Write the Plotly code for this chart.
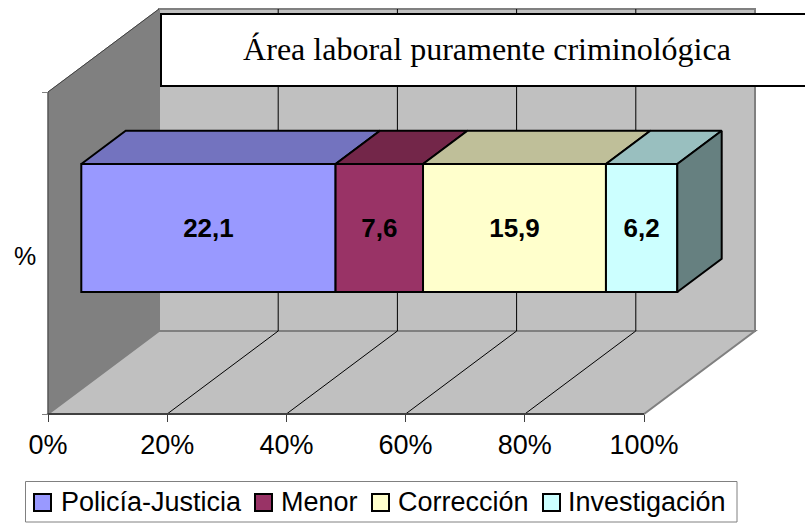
import plotly.graph_objects as go

categories = ["Policía-Justicia", "Menor", "Corrección", "Investigación"]
values = [22.1, 7.6, 15.9, 6.2]
front_colors = ["#9999FF", "#993366", "#FFFFCC", "#CCFFFF"]
top_colors = ["#7373BF", "#732649", "#BFBF99", "#99BFBF"]
side_color = "#668080"
x_ticks = [0, 20, 40, 60, 80, 100]
x_tick_labels = ["0%", "20%", "40%", "60%", "80%", "100%"]
title_text = "Área laboral puramente criminológica"
legend_swatch_left = [33, 254, 371, 542]
legend_text_left = [60, 280, 397, 567]

W, H = 805, 523
X0, SCALE = 48, 5.96          # px of 0 %, px per %
FLOOR_Y, WALL_H = 414, 322    # front floor y, wall height
DEPTH_X, DEPTH_Y = 111 / SCALE, 83
BAR_Y_BOTTOM, BAR_H = 292, 128
GAP, THICK = 0.3, 0.4


def px(x):
    return (x - X0) / SCALE


sans = "Liberation Sans, Arial, sans-serif"
serif = "Liberation Serif, Times New Roman, serif"

total = sum(values)
shares = [v / total * 100 for v in values]
fig = go.Figure()

base_x = GAP * DEPTH_X
starts = []
c = 0
for s in shares:
    starts.append(c + base_x)
    c += s

for name, s, st, v, col in zip(categories, shares, starts, values, front_colors):
    fig.add_trace(go.Bar(
        name=name, orientation="h", x=[s], y=[BAR_Y_BOTTOM - BAR_H / 2], base=[st],
        width=[BAR_H], marker=dict(color=col, line=dict(color="black", width=2)),
        text=[f"{v:.1f}".replace(".", ",")], textposition="inside", insidetextanchor="middle",
        textangle=0, constraintext="none",
        textfont=dict(family=sans, size=26, color="black", weight="bold"),
        hoverinfo="skip", cliponaxis=False, showlegend=False,
    ))

dx, dy = THICK * DEPTH_X, THICK * DEPTH_Y
top_y = BAR_Y_BOTTOM - BAR_H
for s, st, col in zip(shares, starts, top_colors):
    fig.add_trace(go.Scatter(
        x=[st, st + dx, st + s + dx, st + s, st], y=[top_y, top_y - dy, top_y - dy, top_y, top_y],
        mode="lines", fill="toself", fillcolor=col, line=dict(color="black", width=2),
        showlegend=False, hoverinfo="skip",
    ))
e = starts[-1] + shares[-1]
fig.add_trace(go.Scatter(
    x=[e, e + dx, e + dx, e, e],
    y=[top_y, top_y - dy, BAR_Y_BOTTOM - dy, BAR_Y_BOTTOM, top_y],
    mode="lines", fill="toself", fillcolor=side_color, line=dict(color="black", width=2),
    showlegend=False, hoverinfo="skip",
))


def poly(points, fill, line=None, width=1):
    path = "M " + " L ".join(f"{x},{y}" for x, y in points) + " Z"
    return dict(type="path", path=path, xref="x", yref="y", layer="below", fillcolor=fill,
                line=dict(color=line or fill, width=width))


def seg(x1, y1, x2, y2, color="black", width=1):
    return dict(type="line", x0=x1, y0=y1, x1=x2, y1=y2, xref="x", yref="y", layer="below",
                line=dict(color=color, width=width))


def page_rect(x0, y0, x1, y1, fill, line, width):
    return dict(type="rect", xref="paper", yref="paper", layer="above",
                x0=x0 / W, x1=x1 / W, y0=1 - y1 / H, y1=1 - y0 / H,
                fillcolor=fill, line=dict(color=line, width=width))


fb, ft = FLOOR_Y, FLOOR_Y - WALL_H
shapes = [
    poly([(0, ft), (DEPTH_X, ft - DEPTH_Y), (DEPTH_X, fb - DEPTH_Y), (0, fb)], "#808080"),
    poly([(DEPTH_X, ft - DEPTH_Y), (100 + DEPTH_X, ft - DEPTH_Y), (100 + DEPTH_X, fb - DEPTH_Y),
          (DEPTH_X, fb - DEPTH_Y)], "#C0C0C0", "#808080", 2),
    poly([(0, fb), (DEPTH_X, fb - DEPTH_Y), (100 + DEPTH_X, fb - DEPTH_Y), (100, fb)],
         "#C0C0C0", "#808080", 2),
]
for t in x_ticks[1:-1]:
    shapes.append(seg(t, fb, t + DEPTH_X, fb - DEPTH_Y))
    shapes.append(seg(t + DEPTH_X, fb - DEPTH_Y, t + DEPTH_X, ft - DEPTH_Y))
shapes += [
    seg(0, ft, DEPTH_X, ft - DEPTH_Y, "#404040", 1),
    seg(0, ft, 0, fb, "#404040", 1),
    seg(0, fb, 100, fb, "#404040", 2),
    page_rect(161, 14, W + 10, 86, "white", "black", 2),   # title box
    page_rect(25.5, 481.5, 737, 522, "white", "#808080", 1),  # legend box
]
annotations = [dict(text="%", x=25 / W, y=1 - 256 / H, xref="paper", yref="paper",
                    xanchor="center", yanchor="middle", showarrow=False,
                    font=dict(family=sans, size=25, color="black"))]
for name, col, sl, tl in zip(categories, front_colors, legend_swatch_left, legend_text_left):
    shapes.append(page_rect(sl + 1, 494, sl + 18, 511, col, "black", 2))
    annotations.append(dict(text=name, x=tl / W, y=1 - 502 / H, xref="paper", yref="paper",
                            xanchor="left", yanchor="middle", showarrow=False, xshift=-1,
                            font=dict(family=sans, size=27, color="black")))

fig.update_layout(
    width=W, height=H, autosize=False, margin=dict(l=0, r=0, t=0, b=0),
    paper_bgcolor="white", plot_bgcolor="white", barmode="overlay", shapes=shapes,
    annotations=annotations, showlegend=False,
    font=dict(family=sans, color="black", size=27),
    title=dict(text=title_text, x=487 / W, y=1 - 49 / H, xanchor="center", yanchor="middle",
               xref="paper", yref="paper", font=dict(family=serif, size=32, color="black")),
    xaxis=dict(range=[px(0), px(W)], tickvals=x_ticks, ticktext=x_tick_labels, showgrid=False,
               zeroline=False, showline=False, anchor="free", position=1 - FLOOR_Y / H,
               ticks="outside", ticklen=7, tickcolor="#404040", tickwidth=1,
               ticklabelstandoff=0, tickfont=dict(family=sans, size=27, color="black")),
    yaxis=dict(range=[H, 0], tickvals=[ft, fb], ticktext=["", ""], showgrid=False, zeroline=False,
               showline=False, anchor="free", position=X0 / W, ticks="outside", ticklen=6,
               tickcolor="#808080", tickwidth=1),
)
fig.write_html("out.html", config={"displayModeBar": False},
               post_script="document.body.style.margin='0';document.documentElement.style.overflow='hidden';")
